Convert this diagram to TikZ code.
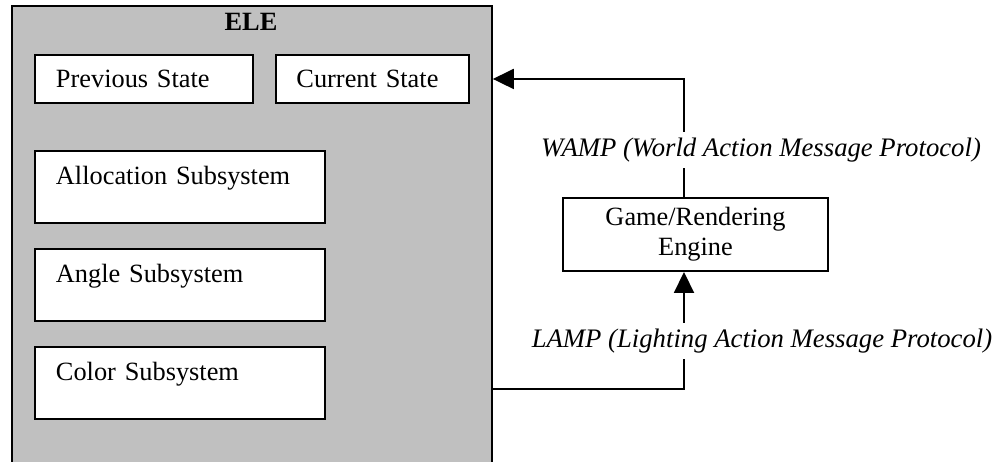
\documentclass[tikz,border=0pt]{standalone}
\usepackage{fontspec}
\setmainfont{Liberation Serif}
\usetikzlibrary{positioning,arrows.meta}
\definecolor{elegray}{RGB}{192,192,192}

\begin{document}
\begin{tikzpicture}[x=0.02cm,y=-0.02cm,
  every node/.style={font=\fontsize{15}{17}\selectfont},
  statebox/.style={draw,fill=white,line width=1.1pt,anchor=north west,
    inner xsep=0.42cm,align=left,minimum height=0.96cm},
  subbox/.style={draw,fill=white,line width=1.1pt,anchor=north west,
    inner xsep=0.42cm,inner ysep=0.2cm,text width=4.96cm,align=left,
    text height=0.47cm,text depth=0.57cm},
  msg/.style={fill=white,font=\fontsize{15.2}{17}\selectfont\itshape},
  flow/.style={line width=1.1pt,-{Triangle[length=0.42cm,width=0.4cm]}}]
  \clip (0,0) rectangle (995,461);
  % ELE block with its parts
  \node[draw,fill=elegray,line width=1.1pt,anchor=north west,inner sep=0pt,
    minimum width=9.6cm,minimum height=9.6cm] (ele) at (11,5) {};
  \node[font=\fontsize{15}{17}\selectfont\bfseries] (eletitle) at (251,22) {ELE};
  \node[statebox,text width=3.52cm] (prev) at (34,54) {Previous State};
  \node[statebox,text width=3.04cm,inner xsep=0.41cm] (cur) at (275,54) {Current State};
  \node[subbox] (alloc) at (34,150) {Allocation Subsystem};
  \node[subbox,below=0.48cm of alloc] (angle) {Angle Subsystem};
  \node[subbox,below=0.48cm of angle] (color) {Color Subsystem};

  % engine and messages
  \node[draw,line width=1.1pt,minimum width=5.3cm,minimum height=1.46cm,
    align=center] (game) at (695.5,234.5) {Game/Rendering\\Engine};
  \coordinate (eleout) at (491,389);
  \draw[flow] ([xshift=-0.23cm]game.north) |- (ele.east |- cur);
  \draw[flow] (eleout) -| ([xshift=-0.23cm]game.south);
  \node[msg] (wamp) at (761,150) {WAMP (World Action Message Protocol)};
  \node[msg] (lamp) at (762,341) {LAMP (Lighting Action Message Protocol)};
\end{tikzpicture}
\end{document}
